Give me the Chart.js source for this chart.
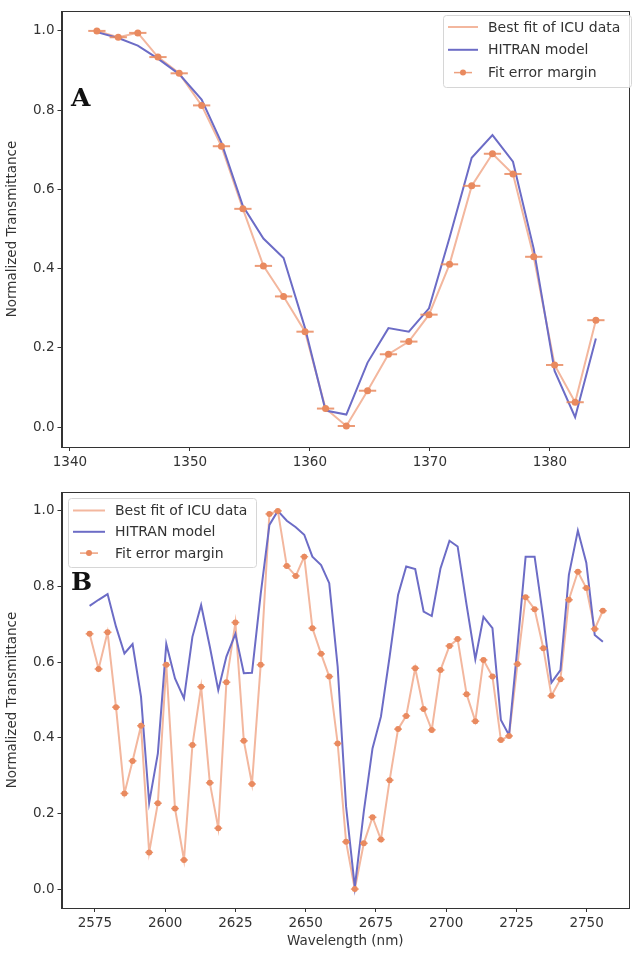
<!DOCTYPE html>
<html>
<head>
<meta charset="utf-8">
<script src="https://cdn.jsdelivr.net/npm/chart.js@4.4.1/dist/chart.umd.min.js"></script>
<style>
  html, body { margin: 0; padding: 0; background: #fff; }
  #wrap { position: relative; width: 633px; height: 953px; }
  canvas { position: absolute; left: 0; }
</style>
</head>
<body>
<div id="wrap">
  <canvas id="panelA" width="633" height="480" style="top:0px"></canvas>
  <canvas id="panelB" width="633" height="473" style="top:480px"></canvas>
</div>
<script>
// ---------- data: panel A (1340-1385 nm band) ----------
const waveA = [1342.25, 1344.03, 1345.66, 1347.34, 1349.11, 1350.98, 1352.63, 1354.42, 1356.13,
  1357.81, 1359.60, 1361.31, 1363.04, 1364.81, 1366.55, 1368.25, 1369.93, 1371.64, 1373.49,
  1375.22, 1376.93, 1378.66, 1380.40, 1382.11, 1383.84];
const fitA = [1.000, 0.984, 0.995, 0.934, 0.893, 0.812, 0.709, 0.551, 0.407, 0.330, 0.241, 0.047,
  0.003, 0.092, 0.184, 0.216, 0.284, 0.411, 0.609, 0.690, 0.639, 0.430, 0.157, 0.063, 0.270];
const hitranA = [0.997, 0.982, 0.963, 0.930, 0.891, 0.827, 0.718, 0.558, 0.476, 0.427, 0.250, 0.042,
  0.032, 0.163, 0.250, 0.241, 0.300, 0.478, 0.680, 0.737, 0.670, 0.450, 0.142, 0.025, 0.224];
const errA = 0.72;
const xTicksA = [1340, 1350, 1360, 1370, 1380];

// ---------- data: panel B (2570-2760 nm band) ----------
const waveB = [2573.1, 2576.3, 2579.5, 2582.5, 2585.5, 2588.4, 2591.4, 2594.3, 2597.4, 2600.4,
  2603.5, 2606.7, 2609.7, 2612.8, 2615.9, 2618.9, 2621.8, 2625.0, 2628.0, 2630.9,
  2634.0, 2637.1, 2640.1, 2643.3, 2646.5, 2649.5, 2652.4, 2655.5, 2658.4, 2661.4,
  2664.4, 2667.5, 2670.7, 2673.8, 2676.8, 2679.9, 2682.9, 2685.8, 2689.0, 2692.0,
  2694.9, 2698.0, 2701.2, 2704.1, 2707.3, 2710.4, 2713.3, 2716.5, 2719.5, 2722.4,
  2725.4, 2728.3, 2731.5, 2734.6, 2737.5, 2740.7, 2743.7, 2746.9, 2749.9, 2752.9, 2755.8];
const fitB = [0.675, 0.582, 0.679, 0.481, 0.253, 0.339, 0.432, 0.097, 0.227, 0.593,
  0.213, 0.077, 0.381, 0.535, 0.281, 0.161, 0.547, 0.705, 0.392, 0.278,
  0.593, 0.992, 1.000, 0.854, 0.828, 0.879, 0.690, 0.622, 0.562, 0.385,
  0.125, 0.000, 0.121, 0.190, 0.131, 0.288, 0.423, 0.458, 0.584, 0.476,
  0.421, 0.579, 0.643, 0.661, 0.515, 0.444, 0.606, 0.562, 0.394, 0.405,
  0.595, 0.772, 0.740, 0.637, 0.511, 0.555, 0.765, 0.839, 0.796, 0.688, 0.736];
const hitranB = [0.749, 0.765, 0.780, 0.694, 0.623, 0.648, 0.509, 0.228, 0.359, 0.648,
  0.557, 0.504, 0.667, 0.751, 0.641, 0.526, 0.615, 0.675, 0.571, 0.572,
  0.780, 0.963, 1.000, 0.974, 0.957, 0.937, 0.879, 0.857, 0.809, 0.588,
  0.218, 0.005, 0.205, 0.372, 0.456, 0.615, 0.778, 0.853, 0.846, 0.734,
  0.722, 0.848, 0.921, 0.906, 0.751, 0.608, 0.720, 0.690, 0.447, 0.407,
  0.641, 0.879, 0.879, 0.716, 0.546, 0.579, 0.831, 0.948, 0.863, 0.672, 0.654];
const errB = 1.4;
const xTicksB = [2575, 2600, 2625, 2650, 2675, 2700, 2725, 2750];

const yTicks = [0.0, 0.2, 0.4, 0.6, 0.8, 1.0];

// colours
const FIT_LINE = '#f3b79e';
const HITRAN = '#6c6cc6';
const MARKER = '#e98a5f';
const INK = '#333333';
const FONT = "'DejaVu Sans', sans-serif";

// ---------- plugins ----------
// horizontal error bars, drawn under the markers
const errorBars = {
  id: 'errorBars',
  beforeDatasetDraw(chart, args, opts) {
    if (args.index !== 2) return;
    const ds = chart.data.datasets[2];
    const xs = chart.scales.x, ys = chart.scales.y;
    const ctx = chart.ctx;
    ctx.save();
    ctx.strokeStyle = MARKER;
    ctx.globalAlpha = 0.85;
    ctx.lineWidth = opts.width;
    ds.data.forEach(p => {
      const py = ys.getPixelForValue(p.y);
      ctx.beginPath();
      ctx.moveTo(xs.getPixelForValue(p.x - opts.err), py);
      ctx.lineTo(xs.getPixelForValue(p.x + opts.err), py);
      ctx.stroke();
    });
    ctx.restore();
  }
};

// full box round the axes, like matplotlib spines
const frame = {
  id: 'frame',
  afterDraw(chart) {
    const a = chart.chartArea, ctx = chart.ctx;
    ctx.save();
    ctx.strokeStyle = INK;
    ctx.lineWidth = 1;
    ctx.strokeRect(Math.round(a.left) + 0.5, Math.round(a.top) + 0.5,
      Math.round(a.right - a.left) - 1, Math.round(a.bottom - a.top));
    ctx.restore();
  }
};

// legend box drawn inside the plot
const boxLegend = {
  id: 'boxLegend',
  afterDraw(chart, args, o) {
    const ctx = chart.ctx;
    ctx.save();
    ctx.beginPath();
    ctx.roundRect(o.x + 0.5, o.y + 0.5, o.w, o.h, 3);
    ctx.fillStyle = 'rgba(255,255,255,0.85)';
    ctx.fill();
    ctx.strokeStyle = '#d6d6d6';
    ctx.lineWidth = 1;
    ctx.stroke();
    ctx.font = '14px ' + FONT;
    ctx.textBaseline = 'middle';
    ctx.fillStyle = INK;
    chart.data.datasets.forEach((ds, i) => {
      const cy = o.y + o.first + i * o.row;
      const x0 = o.x + 5, x1 = x0 + o.handle;
      if (ds.showLine === false) {
        ctx.strokeStyle = MARKER;
        ctx.globalAlpha = 0.8;
        ctx.lineWidth = 1.5;
        ctx.beginPath();
        ctx.moveTo((x0 + x1) / 2 - 9, cy);
        ctx.lineTo((x0 + x1) / 2 + 9, cy);
        ctx.stroke();
        ctx.globalAlpha = 1;
        ctx.fillStyle = MARKER;
        ctx.beginPath();
        ctx.arc((x0 + x1) / 2, cy, 3, 0, Math.PI * 2);
        ctx.fill();
      } else {
        ctx.strokeStyle = ds.borderColor;
        ctx.lineWidth = 2;
        ctx.beginPath();
        ctx.moveTo(x0, cy);
        ctx.lineTo(x1, cy);
        ctx.stroke();
      }
      ctx.fillStyle = INK;
      ctx.fillText(ds.label, x1 + 10, cy + 1);
    });
    ctx.restore();
  }
};

// panel letter (A / B)
const panelTag = {
  id: 'panelTag',
  afterDraw(chart, args, o) {
    const ctx = chart.ctx;
    ctx.save();
    ctx.font = "bold 25px 'DejaVu Serif', serif";
    ctx.fillStyle = '#111';
    ctx.textBaseline = 'alphabetic';
    ctx.fillText(o.text, o.x, o.y);
    ctx.restore();
  }
};

function pairs(xs, ys) { return xs.map((x, i) => ({ x: x, y: ys[i] })); }

function makeDatasets(wave, fit, hitran, markerR) {
  return [
    { label: 'Best fit of ICU data', data: pairs(wave, fit), borderColor: FIT_LINE,
      borderWidth: 2, pointRadius: 0, tension: 0, order: 2 },
    { label: 'HITRAN model', data: pairs(wave, hitran), borderColor: HITRAN,
      borderWidth: 2, pointRadius: 0, tension: 0, order: 1 },
    { label: 'Fit error margin', data: pairs(wave, fit), showLine: false,
      pointRadius: markerR, pointStyle: 'circle', pointBackgroundColor: MARKER,
      pointBorderColor: MARKER, pointBorderWidth: 0, order: 0 }
  ];
}

function makeScales(xMin, xMax, xTicks, xAxisH, xTitle) {
  return {
    x: {
      type: 'linear', min: xMin, max: xMax,
      afterBuildTicks: ax => { ax.ticks = xTicks.map(v => ({ value: v })); },
      afterFit: ax => { ax.height = xAxisH; },
      grid: { drawOnChartArea: false, color: INK, tickLength: 4 },
      border: { color: INK },
      ticks: { color: INK, font: { family: FONT, size: 13.5 }, padding: 3, maxRotation: 0,
        callback: v => String(v) },
      title: { display: !!xTitle, text: xTitle || '', color: INK,
        font: { family: FONT, size: 13.5 }, padding: { top: 1, bottom: 3 } }
    },
    y: {
      min: -0.05, max: 1.05,
      afterBuildTicks: ax => { ax.ticks = yTicks.map(v => ({ value: v })); },
      afterFit: ax => { ax.width = 61.5; },
      grid: { drawOnChartArea: false, color: INK, tickLength: 4 },
      border: { color: INK },
      ticks: { color: INK, font: { family: FONT, size: 13.5 }, padding: 3,
        callback: v => v.toFixed(1) },
      title: { display: true, text: 'Normalized Transmittance', color: INK,
        font: { family: FONT, size: 13.5 }, padding: { top: 4, bottom: 0 } }
    }
  };
}

function baseOptions(scales, padTop, legend, tag, err, errW) {
  return {
    responsive: false, animation: false, devicePixelRatio: 1,
    layout: { padding: { top: padTop, right: 1, left: 0, bottom: 0 } },
    plugins: {
      legend: { display: false }, tooltip: { enabled: false },
      boxLegend: legend, panelTag: tag, errorBars: { err: err, width: errW }
    },
    scales: scales
  };
}

// PANEL A
new Chart(document.getElementById('panelA'), {
  type: 'line',
  data: { datasets: makeDatasets(waveA, fitA, hitranA, 3.5) },
  options: baseOptions(
    makeScales(1339.3, 1386.6, xTicksA, 33, null), 7,
    { x: 443, y: 15, w: 188, h: 72, first: 12, row: 22.8, handle: 30 },
    { text: 'A', x: 71, y: 106 }, errA, 2),
  plugins: [errorBars, frame, boxLegend, panelTag]
});

// PANEL B
new Chart(document.getElementById('panelB'), {
  type: 'line',
  data: { datasets: makeDatasets(waveB, fitB, hitranB, 3) },
  options: baseOptions(
    makeScales(2563.1, 2765.1, xTicksB, 45, 'Wavelength (nm)'), 12,
    { x: 68, y: 18, w: 188, h: 69, first: 12.5, row: 21.3, handle: 32 },
    { text: 'B', x: 71, y: 110 }, errB, 1.5),
  plugins: [errorBars, frame, boxLegend, panelTag]
});
</script>
</body>
</html>
